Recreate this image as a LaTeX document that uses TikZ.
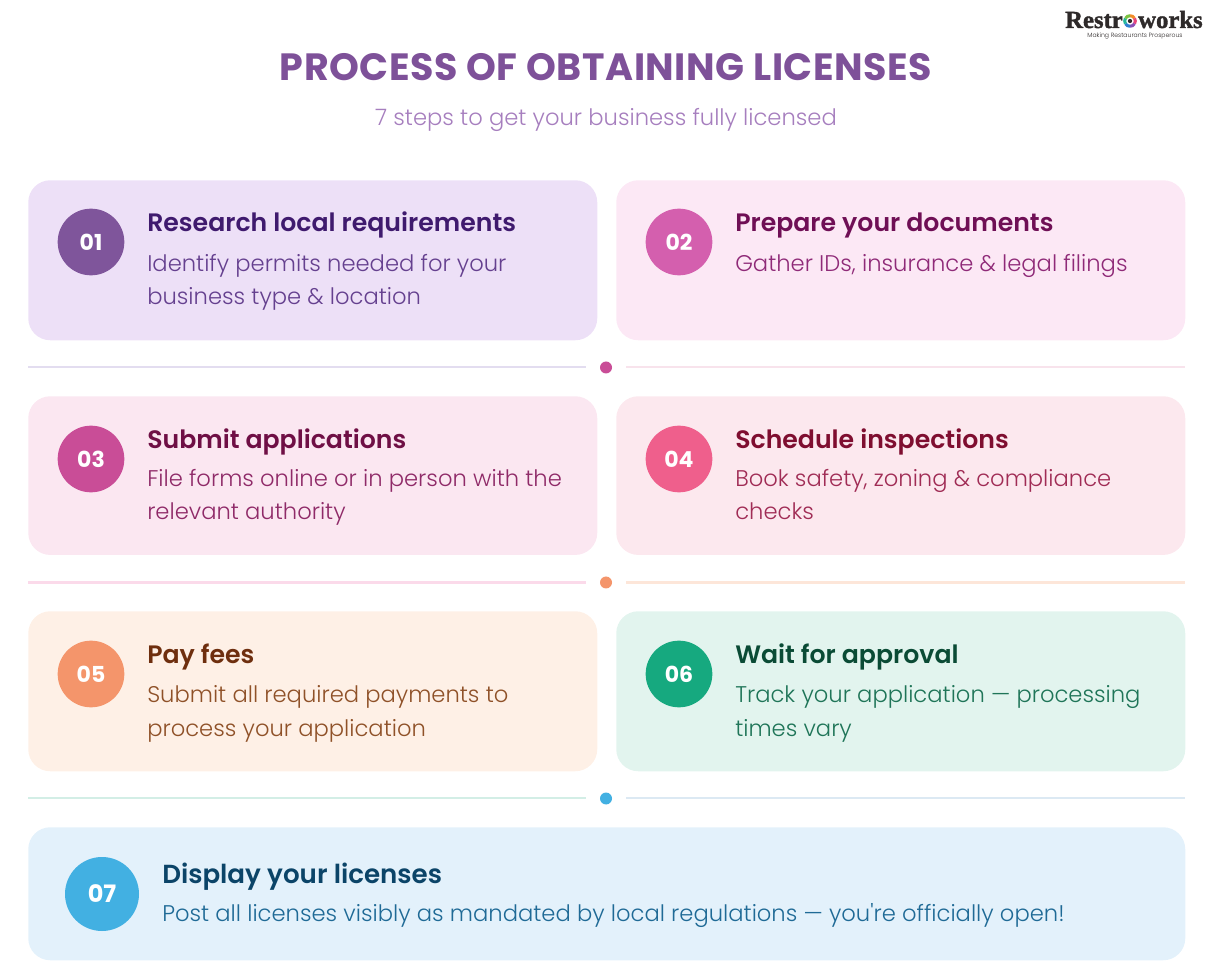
\documentclass[tikz,border=0pt]{standalone}
\usepackage{fontspec}
\setmainfont{Poppins}[UprightFont=* Light,BoldFont=* SemiBold]
\newfontfamily\bodyfont{Poppins}[UprightFont=* Light]
\newfontfamily\logofont{Liberation Serif}[FakeBold=1.5]
\newfontfamily\numfont{Poppins}[UprightFont=* Bold]
\newfontfamily\titlefont{Poppins}[UprightFont=* Bold,LetterSpace=1.5]
\definecolor{ink1}{HTML}{3F1A6E}\definecolor{txt1}{HTML}{65408F}\definecolor{card1}{HTML}{EDE0F7}\definecolor{dot1}{HTML}{7F559B}
\definecolor{ink2}{HTML}{6F0F55}\definecolor{txt2}{HTML}{8F2A78}\definecolor{card2}{HTML}{FCE8F5}\definecolor{dot2}{HTML}{D45FAE}
\definecolor{ink3}{HTML}{6F0F45}\definecolor{txt3}{HTML}{8F2A68}\definecolor{card3}{HTML}{FBE7F1}\definecolor{dot3}{HTML}{C94D97}
\definecolor{ink4}{HTML}{7F0E30}\definecolor{txt4}{HTML}{A02C55}\definecolor{card4}{HTML}{FCE8EE}\definecolor{dot4}{HTML}{EF5F8C}
\definecolor{ink5}{HTML}{6E2E0E}\definecolor{txt5}{HTML}{8F5128}\definecolor{card5}{HTML}{FEF0E6}\definecolor{dot5}{HTML}{F4956B}
\definecolor{ink6}{HTML}{0A4B35}\definecolor{txt6}{HTML}{1F7558}\definecolor{card6}{HTML}{E2F4EE}\definecolor{dot6}{HTML}{16A97F}
\definecolor{ink7}{HTML}{0B4468}\definecolor{txt7}{HTML}{1F6A96}\definecolor{card7}{HTML}{E3F1FB}\definecolor{dot7}{HTML}{42B0E2}
\definecolor{titlecol}{HTML}{7E5199}\definecolor{subcol}{HTML}{A67EBE}\definecolor{logoink}{HTML}{2E2A2A}
\definecolor{rule1}{HTML}{E3DDF0}\definecolor{rule2}{HTML}{F8E3EC}\definecolor{rule3}{HTML}{FBDAEA}\definecolor{rule4}{HTML}{FDE6D9}
\definecolor{rule5}{HTML}{D3EEE6}\definecolor{rule6}{HTML}{DCE9F3}
\definecolor{ring1}{HTML}{F28C28}\definecolor{ring2}{HTML}{E8447A}\definecolor{ring3}{HTML}{8A4FB5}
\definecolor{ring4}{HTML}{2F7FD1}\definecolor{ring5}{HTML}{23B89A}\definecolor{ring6}{HTML}{7CC242}
\tikzset{
  card/.style={rounded corners=16.5pt,minimum width=426.75pt,minimum height=120pt,inner sep=0pt,anchor=north west},
  badge/.style={circle,minimum size=50pt,inner sep=0pt,text=white,font=\numfont\fontsize{16.5pt}{20pt}\selectfont},
  head/.style={anchor=base west,inner sep=0pt,font=\fontsize{18.9pt}{22pt}\selectfont\bfseries},
  body/.style={anchor=base west,inner sep=0pt,align=left,font=\bodyfont\fontsize{17pt}{25.2pt}\selectfont},
  rule/.style={line width=1.1pt},
  pin/.style={circle,minimum size=9pt,inner sep=0pt},
  logotext/.style={inner sep=0pt,text=logoink,font=\logofont\bfseries\fontsize{18.5pt}{20pt}\selectfont}
}
\begin{document}
\begin{tikzpicture}[x=.75pt,y=-.75pt]
\useasboundingbox (0,0) rectangle (1208,980);

\node (title) at (606,67) [inner sep=0pt,text=titlecol,font=\titlefont\fontsize{28.5pt}{34pt}\selectfont] {PROCESS OF OBTAINING LICENSES};
\node (subtitle) at (606,120) [inner sep=0pt,text=subcol,font=\bodyfont\fontsize{17pt}{22pt}\selectfont] {7 steps to get your business fully licensed};

% logo
\node (logoa) at (1123,28) [logotext,anchor=base east] {Restr};
\node (logob) at (1138,28) [logotext,anchor=base west] {works};
\coordinate (ring) at (1130,21);
\foreach \from/\col in {-90/ring1,-30/ring2,30/ring3,90/ring4,150/ring5,210/ring6}
  \draw[line width=2.3pt,\col] (ring) ++(\from:5.3) arc (\from:\from+60:5.3);
\fill[logoink] (ring) circle (1.6pt);
\node (logotag) at (1135,36.5) [inner sep=0pt,text=logoink,font=\bodyfont\fontsize{4.6pt}{6pt}\selectfont] {Making Restaurants Prosperous};

% row one
\node (card1) at (28,180) [card,fill=card1] {};
\node (badge1) at (91,242) [badge,fill=dot1] {01};
\node (head1) at (147,232) [head,text=ink1] {Research local requirements};
\node (body1) at (147,305) [body,text=txt1] {Identify permits needed for your\\business type \& location};

\node (card2) at (616,180) [card,fill=card2] {};
\node (badge2) at (679,242) [badge,fill=dot2] {02};
\node (head2) at (735,232) [head,text=ink2] {Prepare your documents};
\node (body2) at (735,272) [body,text=txt2] {Gather IDs, insurance \& legal filings};

\node (pin1) at (606,367.5) [pin,fill=dot3] {};
\coordinate (l1a) at (28,367);  \coordinate (l1b) at (586,367);
\coordinate (r1a) at (626,367); \coordinate (r1b) at (1185,367);
\draw[rule,draw=rule1] (l1a) -- (l1b);
\draw[rule,draw=rule2] (r1a) -- (r1b);

% row two
\node (card3) at (28,396) [card,fill=card3,minimum height=119pt] {};
\node (badge3) at (91,459) [badge,fill=dot3] {03};
\node (head3) at (147,449) [head,text=ink3] {Submit applications};
\node (body3) at (147,520) [body,text=txt3] {File forms online or in person with the\\relevant authority};

\node (card4) at (616,396) [card,fill=card4,minimum height=119pt] {};
\node (badge4) at (679,459) [badge,fill=dot4] {04};
\node (head4) at (735,449) [head,text=ink4] {Schedule inspections};
\node (body4) at (735,520) [body,text=txt4] {Book safety, zoning \& compliance\\checks};

\node (pin2) at (606,582.5) [pin,fill=dot5] {};
\coordinate (l2a) at (28,582.3);  \coordinate (l2b) at (586,582.3);
\coordinate (r2a) at (626,582.3); \coordinate (r2b) at (1185,582.3);
\draw[rule,line width=2.5pt,draw=rule3] (l2a) -- (l2b);
\draw[rule,line width=2.5pt,draw=rule4] (r2a) -- (r2b);

% row three
\node (card5) at (28,611) [card,fill=card5] {};
\node (badge5) at (91,674) [badge,fill=dot5] {05};
\node (head5) at (147,663) [head,text=ink5] {Pay fees};
\node (body5) at (147,736) [body,text=txt5] {Submit all required payments to\\process your application};

\node (card6) at (616,611) [card,fill=card6] {};
\node (badge6) at (679,674) [badge,fill=dot6] {06};
\node (head6) at (735,663) [head,text=ink6] {Wait for approval};
\node (body6) at (735,736) [body,text=txt6] {Track your application — processing\\times vary};

\node (pin3) at (606,798.5) [pin,fill=dot7] {};
\coordinate (l3a) at (28,798);  \coordinate (l3b) at (586,798);
\coordinate (r3a) at (626,798); \coordinate (r3b) at (1185,798);
\draw[rule,draw=rule5] (l3a) -- (l3b);
\draw[rule,draw=rule6] (r3a) -- (r3b);

% last row
\node (card7) at (28,827) [card,fill=card7,minimum width=867.75pt,minimum height=99.75pt] {};
\node (badge7) at (102,894) [badge,fill=dot7,minimum size=55.5pt,font=\numfont\fontsize{18pt}{22pt}\selectfont] {07};
\node (head7) at (162,883) [head,text=ink7,font=\fontsize{19.6pt}{22pt}\selectfont\bfseries] {Display your licenses};
\node (body7) at (162,921) [body,text=txt7] {Post all licenses visibly as mandated by local regulations — you're officially open!};

\end{tikzpicture}
\end{document}
